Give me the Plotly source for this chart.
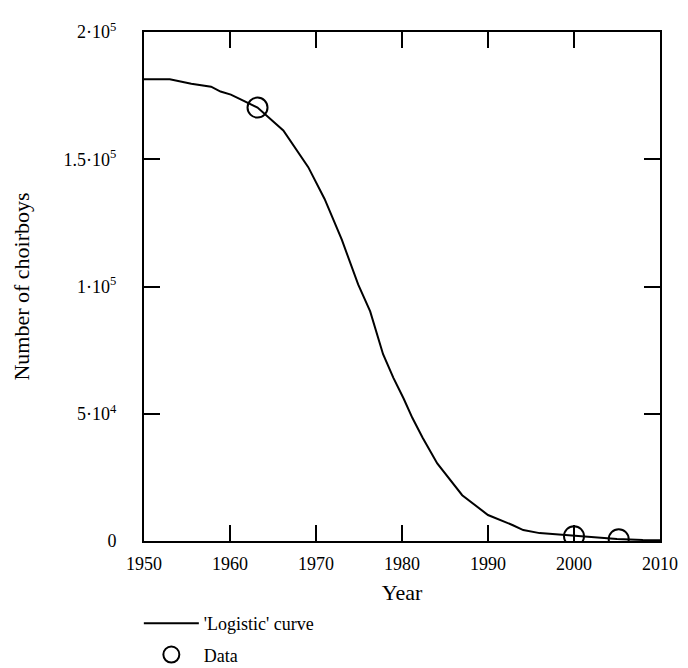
import plotly.graph_objects as go

# Logistic curve
curve_year = [1950, 1953, 1955.5, 1957.8, 1958.9, 1960.1, 1961.3, 1963.2, 1966.2, 1969.1,
              1971, 1973, 1974.9, 1976.3, 1977.8, 1979, 1980.2, 1981.2, 1982.4, 1984.1,
              1987, 1990, 1992.9, 1994.1, 1996, 1999, 2002, 2005, 2008, 2010]
curve_value = [181400, 181400, 179700, 178500, 176600, 175400, 173400, 170300, 161300, 146900,
               134400, 118400, 100800, 90200, 73400, 64100, 55900, 48400, 40600, 30500,
               18000, 10200, 6200, 4300, 3100, 2300, 1500, 800, 400, 300]

# Data points
data_year = [1963.2, 2000, 2005.2]
data_value = [170300, 1900, 700]

y_tickvals = [0, 50000, 100000, 150000, 200000]
y_ticktext = ["0", "5\u00b710<sup>4</sup>", "1\u00b710<sup>5</sup>", "1.5\u00b710<sup>5</sup>", "2\u00b710<sup>5</sup>"]
x_tickvals = [1950, 1960, 1970, 1980, 1990, 2000, 2010]

FONT = "Liberation Serif"
FS = 18

fig = go.Figure()
fig.add_trace(go.Scatter(x=curve_year, y=curve_value, mode="lines",
                         line=dict(color="black", width=2),
                         name="'Logistic' curve", legendgroup="a"))
fig.add_trace(go.Scatter(x=data_year, y=data_value, mode="markers",
                         marker=dict(symbol="circle-open", size=20, color="black",
                                     line=dict(width=2, color="black")),
                         name="Data", legendgroup="b"))

fig.update_layout(
    width=680, height=660,
    margin=dict(l=135, r=28, t=21, b=127),
    paper_bgcolor="white", plot_bgcolor="white",
    font=dict(family=FONT, size=FS, color="black"),
    showlegend=True,
    legend=dict(x=-0.01, y=0.0955, xanchor="left", yanchor="top", yref="container",
                bgcolor="rgba(0,0,0,0)", font=dict(family=FONT, size=FS),
                tracegroupgap=5, itemwidth=55),
)
fig.update_xaxes(range=[1950, 2010], tickvals=x_tickvals, automargin=False,
                 showline=True, linecolor="black", linewidth=2, mirror="ticks",
                 ticks="inside", ticklen=16, tickwidth=2, tickcolor="black",
                 showgrid=False, zeroline=False, ticklabelstandoff=5,
                 title=dict(text="Year", standoff=21))
fig.update_yaxes(range=[0, 200000], tickvals=y_tickvals, ticktext=y_ticktext,
                 showline=True, linecolor="black", linewidth=2, mirror="ticks",
                 ticks="inside", ticklen=16, tickwidth=2, tickcolor="black",
                 showgrid=False, zeroline=False, ticklabelstandoff=22,
                 title=dict(text="Number of choirboys", standoff=28))

fig.write_html("out.html")
